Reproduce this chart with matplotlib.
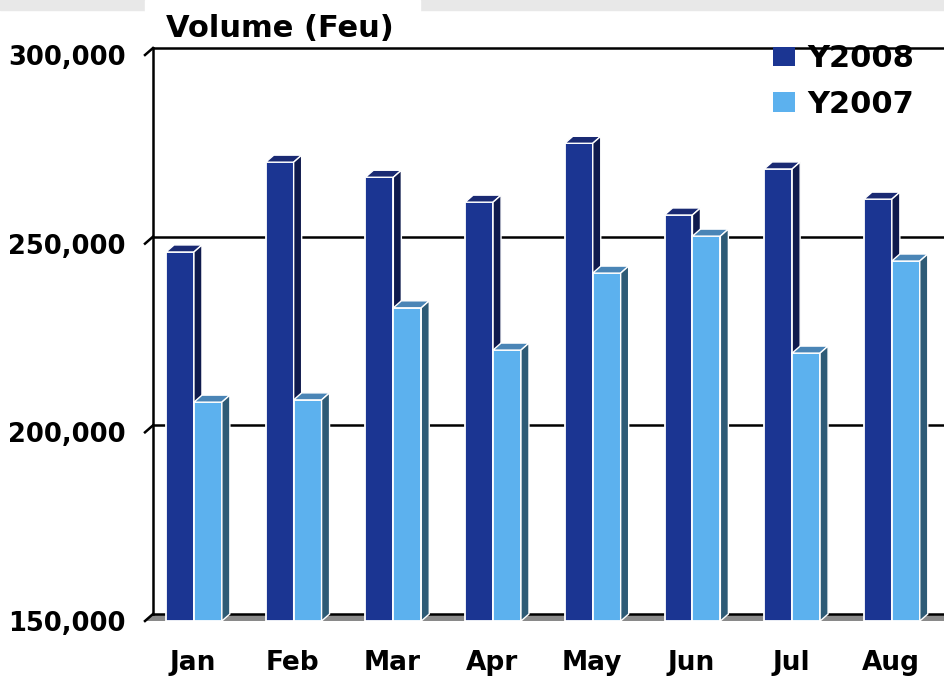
import matplotlib
matplotlib.use('Agg')
import matplotlib.pyplot as plt
from matplotlib.patches import Rectangle, Polygon
from matplotlib.lines import Line2D

# monthly volume (Feu)
months = ['Jan', 'Feb', 'Mar', 'Apr', 'May', 'Jun', 'Jul', 'Aug']
y2008 = [247800, 271600, 267600, 261000, 276600, 257600, 269800, 261800]
y2007 = [208000, 208600, 233000, 221800, 242200, 252000, 221000, 245400]
ytick_vals = [150000, 200000, 250000, 300000]
ytick_labels = ['150,000', '200,000', '250,000', '300,000']

plt.rcParams['font.family'] = ['DejaVu Sans']

W, H = 945, 680
fig = plt.figure(figsize=(W / 100, H / 100), dpi=100)
fig.patch.set_facecolor('white')

# light gray strip at the top, white box behind the title
fig.patches.append(Rectangle((0, 1 - 10 / H), 1, 10 / H, transform=fig.transFigure,
                             color='#e8e8e8', zorder=0))
fig.patches.append(Rectangle((145 / W, 1 - 12 / H), 275 / W, 12 / H, transform=fig.transFigure,
                             color='white', zorder=0))

ax_l, ax_b, ax_w, ax_h = 145, 59, 800, 566
ax = fig.add_axes([ax_l / W, ax_b / H, ax_w / W, ax_h / H])
xmin, xmax = -0.481, 7.543
ymin, ymax = 150000, 300000
ax.set_xlim(xmin, xmax)
ax.set_ylim(ymin, ymax)
for s in ax.spines.values():
    s.set_visible(False)

# 3d depth, in data units (8 px right, 7 px up)
DX = 8 * (xmax - xmin) / ax_w
DY = 7 * (ymax - ymin) / ax_h

# floor
floor = Polygon([(xmin, ymin), (xmax + 1, ymin), (xmax + 1, ymin + DY), (xmin + DX, ymin + DY)],
                closed=True, facecolor='#8a8a8a', edgecolor='none', zorder=1, clip_on=False)
ax.add_patch(floor)

# back wall gridlines, left wall line and slanted ticks
for v in ytick_vals:
    ax.add_line(Line2D([xmin + DX, xmax + 1], [v + DY, v + DY], color='black', lw=1.8,
                       zorder=1.5, clip_on=False))
    ax.add_line(Line2D([xmin, xmin + DX], [v, v + DY], color='black', lw=1.8,
                       zorder=1.5, clip_on=False))
ax.add_line(Line2D([xmin + DX, xmin + DX], [ymin + DY, ymax + DY], color='black', lw=1.8,
                   zorder=1.5, clip_on=False))


def draw_bar(x0, w, h, front, top, side, z):
    ax.add_patch(Rectangle((x0, ymin), w, h - ymin, facecolor=front, edgecolor='white',
                           lw=1.3, zorder=z, clip_on=False))
    ax.add_patch(Polygon([(x0, h), (x0 + w, h), (x0 + w + DX, h + DY), (x0 + DX, h + DY)],
                         closed=True, facecolor=top, edgecolor='white', lw=1.0,
                         zorder=z, clip_on=False))
    ax.add_patch(Polygon([(x0 + w, ymin), (x0 + w + DX, ymin + DY), (x0 + w + DX, h + DY), (x0 + w, h)],
                         closed=True, facecolor=side, edgecolor='white', lw=1.0,
                         zorder=z, clip_on=False))


c08 = ('#1b3592', '#1a2a73', '#0f1a4d')
c07 = ('#5cb1ee', '#4a85b6', '#2e5b76')
bw = 0.28
for i in range(len(months)):
    draw_bar(i - 0.27, bw, y2008[i], c08[0], c08[1], c08[2], 3 + i * 0.1)
    draw_bar(i + 0.01, bw, y2007[i], c07[0], c07[1], c07[2], 3.05 + i * 0.1)

ax.set_xticks(range(len(months)))
ax.set_xticklabels(months, fontsize=19, fontweight='bold')
ax.set_yticks(ytick_vals)
ax.set_yticklabels(ytick_labels, fontsize=18.5, fontweight='bold')
ax.tick_params(axis='x', length=0, pad=21)
ax.tick_params(axis='y', length=0, pad=14)

fig.text(166 / W, 1 - 37 / H, 'Volume (Feu)', fontsize=22, fontweight='bold',
         ha='left', va='baseline')

handles = [Rectangle((0, 0), 1, 1, facecolor=c08[0], edgecolor='none'),
           Rectangle((0, 0), 1, 1, facecolor=c07[0], edgecolor='none')]
leg = ax.legend(handles, ['Y2008', 'Y2007'], loc='upper left',
                bbox_to_anchor=(773 / W, 1 - 44 / H), bbox_transform=fig.transFigure,
                frameon=False, borderpad=0, borderaxespad=0, handlelength=0.72,
                handleheight=0.6, handletextpad=0.4, labelspacing=0.55,
                prop={'size': 22, 'weight': 'bold'})
leg.set_zorder(10)

fig.savefig('out.png', dpi=100)
